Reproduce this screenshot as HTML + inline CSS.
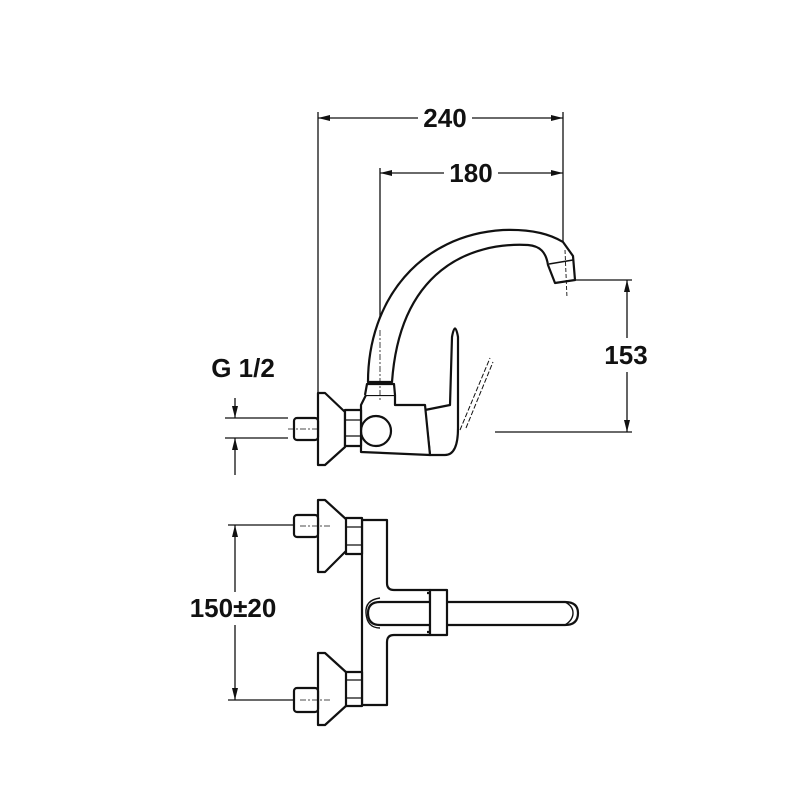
<!DOCTYPE html>
<html><head><meta charset="utf-8"><style>
html,body{margin:0;padding:0;background:#fff;width:800px;height:800px;overflow:hidden}
text{font-family:"Liberation Sans",sans-serif;font-weight:bold;font-size:26px;fill:#111}
</style></head><body>
<svg width="800" height="800" viewBox="0 0 800 800" xmlns="http://www.w3.org/2000/svg">
<defs>
<marker id="a" viewBox="0 0 12 6" refX="12" refY="3" markerWidth="12" markerHeight="6" orient="auto-start-reverse" markerUnits="userSpaceOnUse"><path d="M0,0 L12,3 L0,6 Z" fill="#111"/></marker>
</defs>
<g stroke="#111" stroke-width="1.3" fill="none">
<line x1="318" y1="118" x2="418" y2="118" marker-start="url(#a)"/>
<line x1="472" y1="118" x2="563" y2="118" marker-end="url(#a)"/>
<line x1="318" y1="112" x2="318" y2="395"/>
<line x1="563" y1="112" x2="563" y2="255"/>
<line x1="380" y1="173" x2="444" y2="173" marker-start="url(#a)"/>
<line x1="498" y1="173" x2="563" y2="173" marker-end="url(#a)"/>
<line x1="380" y1="168" x2="380" y2="400"/>
<line x1="575" y1="280" x2="632" y2="280"/>
<line x1="495" y1="432" x2="632" y2="432"/>
<line x1="627" y1="280" x2="627" y2="338" marker-start="url(#a)"/>
<line x1="627" y1="372" x2="627" y2="432" marker-end="url(#a)"/>
<line x1="225" y1="418" x2="288" y2="418"/>
<line x1="225" y1="438" x2="288" y2="438"/>
<line x1="235" y1="398" x2="235" y2="418" marker-end="url(#a)"/>
<line x1="235" y1="438" x2="235" y2="475" marker-start="url(#a)"/>
<line x1="228" y1="525" x2="295" y2="525"/>
<line x1="228" y1="700" x2="295" y2="700"/>
<line x1="235" y1="525" x2="235" y2="592" marker-start="url(#a)"/>
<line x1="235" y1="625" x2="235" y2="700" marker-end="url(#a)"/>
</g>
<text x="445" y="127" text-anchor="middle">240</text>
<text x="471" y="182" text-anchor="middle">180</text>
<text x="626" y="364" text-anchor="middle">153</text>
<text x="243" y="377" text-anchor="middle">G 1/2</text>
<text x="233" y="617" text-anchor="middle">150±20</text>

<g stroke="#111" stroke-width="2.2" fill="#fff" stroke-linejoin="round">
<path d="M368,382 C368,300 420,235 503,230 C530,229 550,234 563,242 L573,256 L575,280 L555,283 L548,265 C546,252 540,246 528,245 C470,242 400,270 392,382 Z"/>
<path d="M549,264 L573,260" stroke-width="1.6"/>
<path d="M565,250 L567,298" stroke-width="0.9" stroke-dasharray="4,2"/>
<path d="M452,337 Q455,320 458,337 L458,428 Q458,455 445,455 L430,455 L425,410 L450,405 Z"/>
<path d="M460,430 L490,358 M466,428 L493,362" stroke-width="1" stroke-dasharray="5,2"/>
<path d="M361,405 L366,395 L395,395 L395,405 L425,405 L430,455 L361,452 Z"/>
<circle cx="376" cy="431" r="15"/>
<path d="M365,395 L367,384 L394,384 L395,395" />
<path d="M318,393 L325,393 L345,412 L345,447 L325,465 L318,465 Z"/>
<rect x="345" y="410" width="16" height="36"/>
<path d="M345,420 L361,420 M345,436 L361,436" stroke-width="1.3"/>
<rect x="294" y="418" width="24" height="22" rx="3"/>

<path d="M362,520 L387,520 L387,583 Q387,590 394,590 L430,590 L430,635 L394,635 Q387,635 387,642 L387,705 L362,705 Z"/>
<path d="M380,602 L565,602 Q578,602 578,613 Q578,625 565,625 L380,625 Q368,625 368,613 Q368,602 380,602 Z"/>
<path d="M380,598 Q365,600 366,613 Q367,628 380,628" fill="none" stroke-width="1.4"/>
<path d="M565,602 Q573,606 573,613 Q573,620 565,625" fill="none" stroke-width="1.4"/>
<rect x="430" y="590" width="17" height="45"/>
<path d="M427,593 L430,593 M427,632 L430,632" />
<path d="M318,500 L325,500 L347,520 L347,550 L325,572 L318,572 Z"/>
<rect x="346" y="518" width="16" height="36"/>
<path d="M346,527 L362,527 M346,545 L362,545" stroke-width="1.3"/>
<rect x="294" y="515" width="24" height="22" rx="3"/>
<path d="M318,653 L325,653 L347,673 L347,705 L325,725 L318,725 Z"/>
<rect x="346" y="672" width="16" height="34"/>
<path d="M346,680 L362,680 M346,698 L362,698" stroke-width="1.3"/>
<rect x="294" y="688" width="24" height="24" rx="3"/>
</g>
<g stroke="#111" stroke-width="0.8" stroke-dasharray="6,2,2,2" fill="none">
<line x1="288" y1="429" x2="318" y2="429"/>
<line x1="300" y1="526" x2="330" y2="526"/>
<line x1="300" y1="700" x2="330" y2="700"/>
<line x1="380" y1="330" x2="380" y2="400"/>
</g>
</svg>
</body></html>
